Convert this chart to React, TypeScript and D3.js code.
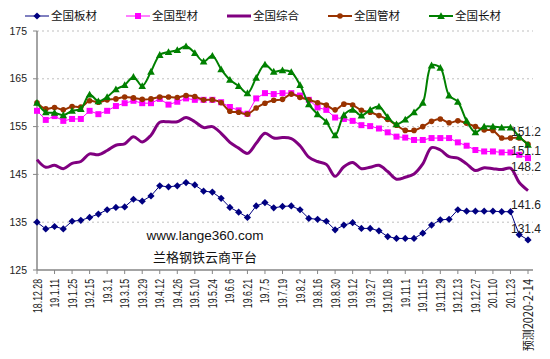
import React from "react";
import * as d3 from "d3";

// weekly dates, only every second one is printed on the axis
const categories = [
  "18.12.28", "19.1.4", "19.1.11", "19.1.18", "19.1.25", "19.2.1", "19.2.15", "19.2.22",
  "19.3.1", "19.3.8", "19.3.15", "19.3.22", "19.3.29", "19.4.4", "19.4.12", "19.4.19",
  "19.4.26", "19.5.5", "19.5.10", "19.5.17", "19.5.24", "19.5.31", "19.6.6", "19.6.14",
  "19.6.21", "19.6.28", "19.7.5", "19.7.12", "19.7.19", "19.7.26", "19.8.2", "19.8.9",
  "19.8.16", "19.8.23", "19.8.30", "19.9.6", "19.9.12", "19.9.20", "19.9.27", "19.10.11",
  "19.10.18", "19.10.25", "19.11.1", "19.11.8", "19.11.15", "19.11.22", "19.11.29", "19.12.6",
  "19.12.13", "19.12.20", "19.12.27", "20.1.3", "20.1.10", "20.1.17", "20.1.23", "20.2.7",
  "预测2020-2-14",
];

const banCai = [
  135.0, 133.6, 134.1, 133.6, 135.2, 135.4, 136.0, 136.7, 137.6, 138.1, 138.2, 139.8, 139.4, 140.5,
  142.6, 142.4, 142.6, 143.3, 142.8, 141.5, 141.3, 140.0, 138.1, 137.1, 136.0, 138.4, 139.1, 138.0,
  138.3, 138.4, 137.6, 135.8, 135.6, 135.2, 133.4, 134.4, 134.9, 133.7, 133.7, 133.2, 132.0, 131.6,
  131.6, 131.6, 132.7, 134.4, 135.5, 135.6, 137.6, 137.3, 137.3, 137.3, 137.3, 137.2, 137.2, 132.4,
  131.3,
];

const xingCai = [
  158.3, 156.4, 157.2, 156.2, 156.6, 156.6, 158.3, 157.6, 158.3, 159.3, 159.9, 160.4, 159.9, 159.9,
  160.8, 159.6, 160.2, 160.9, 160.6, 160.6, 160.6, 160.1, 159.1, 158.4, 157.7, 160.9, 162.0, 161.8,
  162.0, 162.0, 161.5, 160.6, 159.0, 158.5, 156.9, 156.6, 156.2, 155.3, 155.1, 154.6, 153.8, 152.9,
  152.7, 152.2, 152.2, 152.6, 152.6, 152.6, 151.7, 151.0, 150.1, 149.8, 149.8, 149.6, 149.6, 149.1,
  148.4,
];

const zongHe = [
  148.1, 146.5, 146.9, 146.2, 147.3, 147.7, 149.3, 149.1, 150.0, 151.1, 151.4, 152.9, 151.8, 153.2,
  155.9, 156.0, 156.0, 156.9, 156.0, 154.8, 155.0, 153.6, 151.7, 150.5, 149.4, 151.5, 153.6, 152.6,
  152.7, 152.5, 151.0, 148.6, 147.7, 147.1, 144.6, 146.6, 147.5, 146.2, 146.5, 146.9, 145.6, 144.0,
  144.4, 145.1, 147.2, 150.6, 150.1, 148.7, 148.4, 147.2, 145.8, 146.4, 146.2, 146.0, 146.3, 143.3,
  141.6,
];

const guanCai = [
  160.0, 158.7, 159.0, 158.5, 159.2, 159.1, 160.4, 160.1, 160.6, 160.8, 161.2, 161.0, 160.7, 160.8,
  161.2, 161.2, 161.1, 161.5, 161.3, 160.6, 160.6, 160.0, 158.2, 158.0, 157.6, 158.9, 159.9, 160.5,
  160.7, 161.8, 161.1, 160.6, 160.0, 159.5, 158.5, 159.7, 159.5, 158.4, 158.0, 157.3, 156.5, 155.3,
  154.2, 154.2, 155.0, 156.1, 156.6, 155.8, 156.2, 155.7, 155.0, 154.3, 154.2, 152.6, 152.6, 152.6,
  151.3,
];

const changCai = [
  160.0, 158.0, 157.9, 157.4, 158.3, 158.7, 161.7, 160.3, 161.2, 162.8, 163.7, 165.4, 163.5, 166.5,
  170.0, 170.6, 171.0, 171.8, 170.4, 168.6, 169.8, 167.0, 164.8, 163.5, 162.0, 165.2, 168.0, 166.5,
  166.8, 166.4, 163.7, 159.7, 157.6, 156.0, 153.2, 157.4, 158.5, 157.3, 158.5, 159.2, 157.0, 155.5,
  156.5, 158.0, 160.0, 167.8, 167.3, 161.5, 160.2, 156.2, 153.8, 155.0, 155.0, 154.8, 154.8, 152.9,
  151.2,
];

const seriesNames = ["全国板材", "全国型材", "全国综合", "全国管材", "全国长材"];
const lastLabels = ["131.4", "148.2", "141.6", "151.1", "151.2"];
const yTicks = [125, 135, 145, 155, 165, 175];

const W = 550;
const H = 359;
const left = 37;
const right = 533;
const top = 31;
const bottom = 270;

const x = d3.scalePoint<string>().domain(categories).range([left, 528]);
const y = d3.scaleLinear().domain([125, 175]).range([bottom, top]);

const styles = [
  { color: "#000080", width: 1, marker: "diamond", curve: d3.curveLinear, labelDy: -11 },
  { color: "#FF00FF", width: 1, marker: "square", curve: d3.curveLinear, labelDy: 9 },
  { color: "#800080", width: 3, marker: "none", curve: d3.curveCatmullRom.alpha(0.5), labelDy: 14 },
  { color: "#993300", width: 2, marker: "circle", curve: d3.curveCatmullRom.alpha(0.5), labelDy: 7 },
  { color: "#008000", width: 2, marker: "triangle", curve: d3.curveCatmullRom.alpha(0.5), labelDy: -13 },
];

const series = [banCai, xingCai, zongHe, guanCai, changCai].map((values, i) => ({
  name: seriesNames[i],
  values,
  last: lastLabels[i],
  ...styles[i],
}));

const Marker = ({ type, color, cx, cy }) => {
  if (type === "diamond")
    return <path d={`M${cx},${cy - 3.6}L${cx + 3.6},${cy}L${cx},${cy + 3.6}L${cx - 3.6},${cy}Z`} fill={color} />;
  if (type === "square")
    return <rect x={cx - 3} y={cy - 3} width={6} height={6} fill={color} />;
  if (type === "circle") return <circle cx={cx} cy={cy} r={2.8} fill={color} />;
  if (type === "triangle")
    return <path d={`M${cx},${cy - 3.8}L${cx + 3.8},${cy + 3}L${cx - 3.8},${cy + 3}Z`} fill={color} />;
  return null;
};

const cjk = "'Noto Sans CJK SC', 'Liberation Sans', sans-serif";
const latin = "'Liberation Sans', Arial, sans-serif";
const hasCjk = (s) => /[\u4e00-\u9fff]/.test(s);

const App = () => {
  const line = (s) =>
    d3
      .line<number>()
      .x((d, i) => x(categories[i]))
      .y((d) => y(d))
      .curve(s.curve)(s.values);

  return (
    <svg
      width={W}
      height={H}
      style={{ position: "absolute", left: 0, top: 0, background: "#fff" }}
    >
      {/* gridlines */}
      {yTicks.slice(1).map((t) => (
        <line
          key={t}
          x1={left}
          x2={right}
          y1={y(t)}
          y2={y(t)}
          stroke="#bfbfbf"
          strokeDasharray="2,3"
        />
      ))}

      {/* y axis */}
      <line x1={left} x2={left} y1={top} y2={bottom} stroke="#868686" strokeWidth={1.5} />
      {yTicks.map((t) => (
        <g key={t}>
          <line x1={left - 4} x2={left} y1={y(t)} y2={y(t)} stroke="#868686" />
          <text
            x={27}
            y={y(t)}
            dy="0.35em"
            textAnchor="end"
            fontSize={10.5}
            fontFamily={latin}
            fill="#222"
          >
            {t}
          </text>
        </g>
      ))}

      {/* x axis */}
      <line x1={left} x2={right} y1={bottom} y2={bottom} stroke="#868686" strokeWidth={1.5} />
      {categories.map((c, i) =>
        i % 2 === 0 ? (
          <g key={c}>
            <line x1={x(c)} x2={x(c)} y1={bottom} y2={bottom + 4} stroke="#868686" />
            <text
              transform={`translate(${x(c)},279) rotate(-90) scale(${hasCjk(c) ? 0.88 : 0.7},1)`}
              dy="0.36em"
              textAnchor="end"
              fontSize={12.5}
              fontFamily={hasCjk(c) ? cjk : latin}
              fill="#222"
            >
              {c}
            </text>
          </g>
        ) : null
      )}

      {/* series */}
      {series.map((s) => (
        <g key={s.name}>
          <path d={line(s)} fill="none" stroke={s.color} strokeWidth={s.width} strokeLinejoin="round" />
          {s.values.map((v, i) => (
            <Marker key={i} type={s.marker} color={s.color} cx={x(categories[i])} cy={y(v)} />
          ))}
        </g>
      ))}

      {/* last value labels */}
      {series.map((s) => (
        <text
          key={s.name + "-last"}
          x={511}
          y={y(s.values[s.values.length - 1]) + s.labelDy}
          dy="0.35em"
          fontSize={12}
          fontFamily={latin}
          fill="#222"
        >
          {s.last}
        </text>
      ))}

      {/* watermark text */}
      <text x={205} y={235} dy="0.35em" textAnchor="middle" fontSize={13.5} fontFamily={latin} fill="#111">
        www.lange360.com
      </text>
      <text x={205} y={257} dy="0.35em" textAnchor="middle" fontSize={13} fontFamily={cjk} fill="#111">
        兰格钢铁云商平台
      </text>

      {/* legend */}
      {series.map((s, i) => {
        const lx = 25 + i * 101;
        return (
          <g key={s.name + "-legend"}>
            <line x1={lx} x2={lx + 24} y1={16} y2={16} stroke={s.color} strokeWidth={s.width} />
            <Marker type={s.marker} color={s.color} cx={lx + 12} cy={16} />
            <text x={lx + 26} y={16} dy="0.35em" fontSize={11.5} fontFamily={cjk} fill="#111">
              {s.name}
            </text>
          </g>
        );
      })}
    </svg>
  );
};

export default App;
